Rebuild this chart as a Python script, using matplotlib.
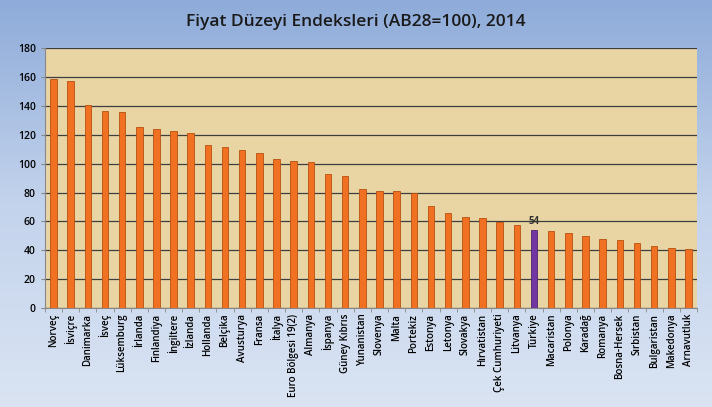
import matplotlib.pyplot as plt
import numpy as np
from matplotlib.colors import LinearSegmentedColormap

plt.rcParams['font.family'] = ['Open Sans', 'DejaVu Sans']

countries = ['Norveç', 'İsviçre', 'Danimarka', 'İsveç', 'Lüksemburg', 'İrlanda',
             'Finlandiya', 'İngiltere', 'İzlanda', 'Hollanda', 'Belçika', 'Avusturya',
             'Fransa', 'İtalya', 'Euro Bölgesi 19(2)', 'Almanya', 'İspanya',
             'Güney Kıbrıs', 'Yunanistan', 'Slovenya', 'Malta', 'Portekiz', 'Estonya',
             'Letonya', 'Slovakya', 'Hırvatistan', 'Çek Cumhuriyeti', 'Litvanya',
             'Türkiye', 'Macaristan', 'Polonya', 'Karadağ', 'Romanya', 'Bosna-Hersek',
             'Sırbistan', 'Bulgaristan', 'Makedonya', 'Arnavutluk']
values = [158.4, 157.2, 140.3, 136.3, 135.7, 125.4, 124.3, 122.4, 121.5, 113.2,
          111.3, 109.7, 107.6, 103.0, 102.0, 101.3, 92.5, 91.1, 82.1, 81.2, 81.2,
          79.8, 70.7, 65.6, 63.3, 62.6, 59.4, 57.5, 54.0, 53.3, 52.2, 49.9, 48.0,
          47.3, 45.2, 42.9, 41.5, 41.0]
highlight = 'Türkiye'

fig = plt.figure(figsize=[7.12, 4.07], dpi=100)

# blue gradient background
bg = fig.add_axes([0, 0, 1, 1])
grad = np.linspace(0, 1, 256).reshape(-1, 1)
cmap = LinearSegmentedColormap.from_list('bg', ['#8eabd9', '#c3d3ec', '#dae4f3'])
bg.imshow(grad, aspect='auto', cmap=cmap, extent=[0, 1, 0, 1])
bg.set_axis_off()

ax = fig.add_axes([0.063, 0.243, 0.916, 0.639])
ax.set_facecolor('#e9d5a4')
x = np.arange(len(countries))
colors = ['#7236a3' if c == highlight else '#f07122' for c in countries]
edges = ['#4e2270' if c == highlight else '#b8500f' for c in countries]
ax.bar(x, values, width=0.38, color=colors, edgecolor=edges, linewidth=0.6, zorder=3)

i = countries.index(highlight)
ax.text(x[i], values[i] + 2, '{:.0f}'.format(values[i]), ha='center', va='bottom',
        fontsize=7, fontweight='bold', color='#333333')

ax.set_xlim(-0.5, len(countries) - 0.5)
ax.set_ylim(0, 180)
ax.set_yticks(np.arange(0, 181, 20))
ax.yaxis.grid(True, color='#3e3e3e', linewidth=0.9, zorder=1)
ax.set_axisbelow(True)
ax.set_xticks(x)
ax.set_xticklabels(countries, rotation=90, fontsize=7, fontweight='semibold')
ax.set_xticks(np.arange(-0.5, len(countries), 1), minor=True)
ax.tick_params(axis='x', which='major', length=0, pad=4)
ax.tick_params(axis='x', which='minor', length=3, color='#888888')
ax.tick_params(axis='y', labelsize=7.5, length=3, color='#888888')
for lbl in ax.get_yticklabels():
    lbl.set_fontweight('semibold')
for side in ['top', 'right']:
    ax.spines[side].set_visible(False)
ax.spines['left'].set_color('#888888')
ax.spines['bottom'].set_color('#888888')

fig.text(0.5, 0.945, 'Fiyat Düzeyi Endeksleri (AB28=100), 2014', ha='center',
         va='center', fontsize=12.5, fontweight='semibold', color='#1a1a1a')

plt.savefig('out.png')
